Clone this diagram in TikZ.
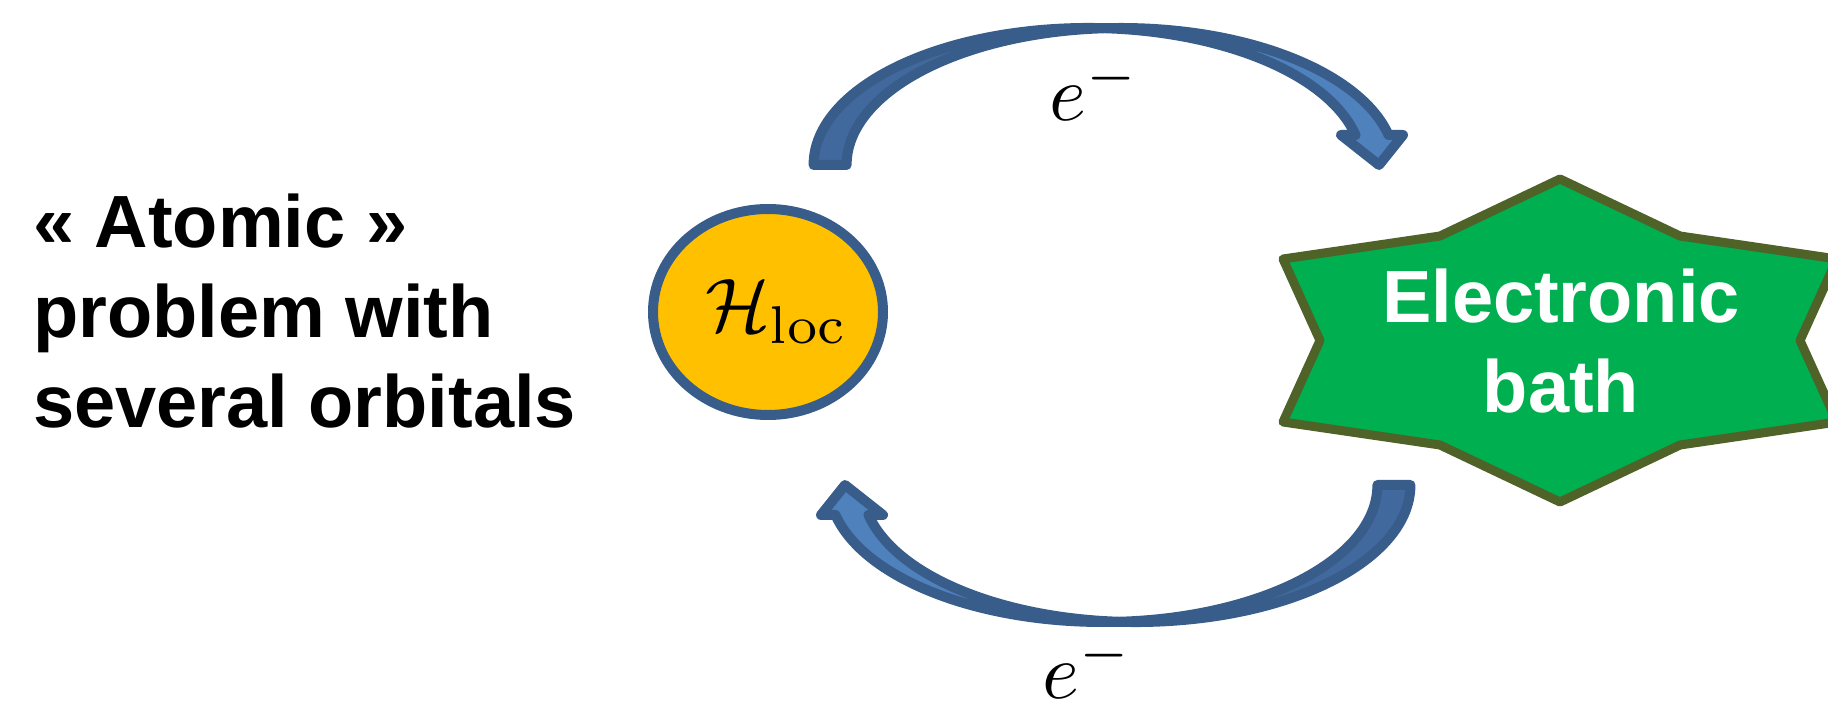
\documentclass[tikz,border=0pt]{standalone}
\usepackage{fontspec}
\newfontfamily\labelsans{Liberation Sans}
\usetikzlibrary{shapes.geometric}

\definecolor{locfill}{HTML}{FFC000}
\definecolor{blueline}{HTML}{385D8A}
\definecolor{arrowfront}{HTML}{4F81BD}
\definecolor{arrowback}{HTML}{41699D}
\definecolor{bathfill}{HTML}{00B050}
\definecolor{bathline}{HTML}{4F6228}

% outline of the twisted ribbon arrow (local coordinates, centre of its box at the origin)
\def\ribbonoutline{(267,-68.5) -- (229,-38.5) -- (243.5,-38.5)
  arc[start angle=12.65, end angle=180, x radius=274.3pt, y radius=137pt]
  -- (-265.4,-68.5)
  arc[start angle=180, end angle=12.65, x radius=274.3pt, y radius=137pt]
  -- (291,-38.5) -- cycle}
% the darker back face of the ribbon, left of the twist
\def\ribbonback{(-7.6,68.25)
  arc[start angle=86.55, end angle=180, x radius=274.3pt, y radius=137pt]
  -- (-265.4,-68.5)
  arc[start angle=180, end angle=93.45, x radius=274.3pt, y radius=137pt]
  -- cycle}

\tikzset{
  bigtext/.style={font=\labelsans\bfseries\fontsize{74}{90}\selectfont, inner sep=0pt},
  mathlabel/.style={inner sep=0pt, scale=7.6, transform shape},
  elabel/.style={inner sep=0pt, scale=7.9, transform shape},
  locshape/.style={ellipse, draw=blueline, fill=locfill, line width=10pt,
    minimum width=230pt, minimum height=206pt, inner sep=0pt},
  bathshape/.style={draw=bathline, fill=bathfill, line width=9pt, line join=round},
  ribbonarrow/.pic={
    \fill[arrowfront] \ribbonoutline;
    \fill[arrowback] \ribbonback;
    \draw[blueline, line width=10pt, line join=round] \ribbonoutline;
  }
}

\begin{document}
\begin{tikzpicture}[x=1pt, y=1pt]
  \useasboundingbox (0,0) rectangle (1828,707);
  \clip (0,0) rectangle (1828,707);

  % left caption
  \node[bigtext, anchor=base west] (atomic) at (33,459)
    {\begin{tabular}[t]{@{}l@{}}«~Atomic~»\\problem with\\several orbitals\end{tabular}};

  % local Hamiltonian
  \node[locshape] (loc) at (768,395) {};
  \node[mathlabel, anchor=base] (loclabel) at (777,375) {$\mathcal{H}_{\mathrm{loc}}$};

  % electronic bath (six-pointed star)
  \draw[bathshape, shift={(1560,366.5)}]
    (0,161.5) -- (120,104.5) -- (277,81.5) -- (240,0) -- (277,-81.5)
    -- (120,-104.5) -- (0,-161.5) -- (-120,-104.5) -- (-277,-81.5)
    -- (-240,0) -- (-277,81.5) -- (-120,104.5) -- cycle;
  \node[bigtext, text=white, anchor=base] (bath) at (1561,384)
    {\begin{tabular}[t]{@{}c@{}}Electronic\\bath\end{tabular}};

  % electron hopping arrows
  \pic (hopout) at (1112,610.5) {ribbonarrow};
  \pic[rotate=180] (hopin) at (1112,153.5) {ribbonarrow};

  \node[elabel, anchor=base] (etop) at (1095,586) {$e^{-}$};
  \node[elabel, anchor=base] (ebot) at (1088,9) {$e^{-}$};
\end{tikzpicture}
\end{document}
